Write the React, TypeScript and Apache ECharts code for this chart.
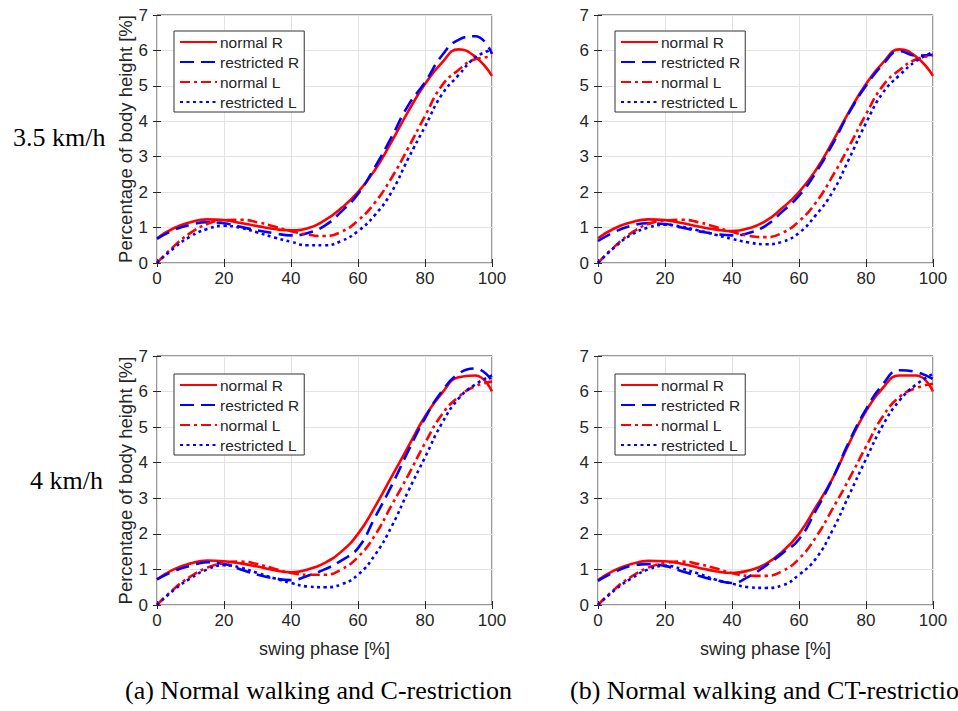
import React, { useEffect, useRef } from 'react';
import * as echarts from 'echarts';

const xValues = [0, 5, 10, 15, 20, 25, 30, 35, 40, 45, 50, 55, 60, 65, 70, 75, 80, 85, 90, 95, 100];
const seriesNames = ['normal R', 'restricted R', 'normal L', 'restricted L'];
const rowLabels = ['3.5 km/h', '4 km/h'];
const captions = ['(a) Normal walking and C-restriction', '(b) Normal walking and CT-restriction'];
const yAxisTitle = 'Percentage of body height [%]';
const xAxisTitle = 'swing phase [%]';

// (a) 3.5 km/h
const a35NormalR = [0.70, 0.98, 1.15, 1.23, 1.21, 1.13, 1.04, 0.96, 0.92, 0.98, 1.20, 1.55, 2.00, 2.62, 3.42, 4.28, 5.05, 5.65, 6.03, 5.82, 5.28];
const a35RestrictedR = [0.68, 0.93, 1.08, 1.15, 1.12, 1.02, 0.92, 0.84, 0.78, 0.85, 1.05, 1.45, 1.95, 2.70, 3.55, 4.45, 5.10, 5.85, 6.30, 6.40, 5.90];
const a35NormalL = [0.00, 0.47, 0.85, 1.10, 1.21, 1.22, 1.15, 1.03, 0.90, 0.80, 0.76, 0.88, 1.20, 1.70, 2.40, 3.25, 4.15, 5.00, 5.45, 5.75, 5.82];
const a35RestrictedL = [0.00, 0.42, 0.75, 0.96, 1.05, 0.99, 0.86, 0.72, 0.60, 0.50, 0.50, 0.62, 0.90, 1.35, 2.00, 2.95, 3.85, 4.75, 5.30, 5.80, 6.02];

// (b) 3.5 km/h
const b35NormalR = [0.70, 0.98, 1.15, 1.23, 1.21, 1.13, 1.03, 0.95, 0.90, 0.98, 1.18, 1.55, 2.00, 2.62, 3.42, 4.28, 5.05, 5.65, 6.03, 5.82, 5.28];
const b35RestrictedR = [0.62, 0.88, 1.05, 1.12, 1.10, 1.00, 0.90, 0.82, 0.78, 0.85, 1.05, 1.45, 1.90, 2.55, 3.35, 4.25, 5.00, 5.60, 5.98, 5.85, 5.88];
const b35NormalL = [0.00, 0.47, 0.85, 1.10, 1.20, 1.22, 1.15, 1.02, 0.88, 0.77, 0.73, 0.85, 1.18, 1.70, 2.45, 3.30, 4.20, 5.00, 5.45, 5.75, 5.85];
const b35RestrictedL = [0.00, 0.45, 0.80, 1.00, 1.08, 1.02, 0.92, 0.80, 0.68, 0.58, 0.53, 0.60, 0.85, 1.35, 2.00, 2.95, 3.95, 4.80, 5.30, 5.70, 5.95];

// (a) 4 km/h
const a4NormalR = [0.72, 1.00, 1.17, 1.25, 1.23, 1.17, 1.08, 0.98, 0.92, 1.00, 1.18, 1.50, 2.00, 2.75, 3.60, 4.45, 5.30, 5.95, 6.40, 6.45, 6.00];
const a4RestrictedR = [0.72, 0.95, 1.10, 1.20, 1.15, 1.00, 0.85, 0.75, 0.70, 0.82, 1.00, 1.25, 1.60, 2.45, 3.35, 4.33, 5.25, 6.00, 6.50, 6.65, 6.30];
const a4NormalL = [0.00, 0.45, 0.80, 1.05, 1.18, 1.22, 1.15, 1.02, 0.90, 0.85, 0.85, 1.00, 1.35, 1.95, 2.80, 3.65, 4.55, 5.35, 5.85, 6.15, 6.28];
const a4RestrictedL = [0.00, 0.42, 0.75, 1.00, 1.12, 1.05, 0.90, 0.75, 0.62, 0.52, 0.50, 0.58, 0.85, 1.40, 2.20, 3.20, 4.15, 5.10, 5.80, 6.20, 6.45];

// (b) 4 km/h
const b4NormalR = [0.70, 0.98, 1.15, 1.24, 1.23, 1.16, 1.05, 0.95, 0.90, 0.97, 1.15, 1.50, 2.00, 2.75, 3.55, 4.55, 5.45, 6.10, 6.45, 6.45, 6.00];
const b4RestrictedR = [0.68, 0.93, 1.10, 1.15, 1.10, 0.95, 0.82, 0.70, 0.62, 0.80, 1.10, 1.45, 1.85, 2.65, 3.55, 4.60, 5.50, 6.20, 6.60, 6.55, 6.35];
const b4NormalL = [0.00, 0.45, 0.80, 1.05, 1.18, 1.22, 1.15, 1.03, 0.90, 0.82, 0.82, 0.95, 1.30, 1.90, 2.70, 3.55, 4.45, 5.30, 5.85, 6.10, 6.22];
const b4RestrictedL = [0.00, 0.42, 0.75, 1.00, 1.10, 1.02, 0.88, 0.72, 0.60, 0.50, 0.48, 0.55, 0.85, 1.30, 2.10, 3.10, 4.10, 5.05, 5.75, 6.20, 6.50];

const panels = [
  [a35NormalR, a35RestrictedR, a35NormalL, a35RestrictedL],
  [b35NormalR, b35RestrictedR, b35NormalL, b35RestrictedL],
  [a4NormalR, a4RestrictedR, a4NormalL, a4RestrictedL],
  [b4NormalR, b4RestrictedR, b4NormalL, b4RestrictedL],
];

const grids = [
  { left: 157, top: 15, width: 335, height: 248 },
  { left: 598, top: 15, width: 335, height: 248 },
  { left: 157, top: 356, width: 335, height: 249 },
  { left: 598, top: 356, width: 335, height: 249 },
];

const legendPos = [
  { left: 174, top: 31 },
  { left: 615, top: 31 },
  { left: 174, top: 374 },
  { left: 615, top: 374 },
];

const lineStyles = [
  { color: '#ff0000', type: 'solid' as any },
  { color: '#0000ff', type: [14, 7] as any },
  { color: '#ff0000', type: [10, 4, 3, 4] as any },
  { color: '#0000ff', type: [3, 3.5] as any },
];

const SANS = '"Liberation Sans", Arial, Helvetica, sans-serif';
const SERIF = '"Liberation Serif", "Times New Roman", serif';
const AX = '#262626';

export default function App() {
  const ref = useRef<HTMLDivElement>(null);
  useEffect(() => {
    if (!ref.current) return;
    const chart = echarts.init(ref.current, undefined, { renderer: 'svg' });

    const xAxes: any[] = [];
    const yAxes: any[] = [];
    grids.forEach((_, p) => {
      xAxes.push({
        type: 'value', gridIndex: p, min: 0, max: 100, interval: 20, position: 'bottom',
        axisLine: { show: false },
        axisTick: { show: true, inside: true, length: 4, lineStyle: { color: AX } },
        axisLabel: { color: AX, fontSize: 17, fontFamily: SANS, margin: 7 },
        splitLine: { show: true, lineStyle: { color: '#e3e3e3', width: 1 } },
        name: p >= 2 ? xAxisTitle : '',
        nameLocation: 'middle', nameGap: 35,
        nameTextStyle: { color: AX, fontSize: 18, fontFamily: SANS },
      });
      yAxes.push({
        type: 'value', gridIndex: p, min: 0, max: 7, interval: 1, position: 'left',
        axisLine: { show: false },
        axisTick: { show: true, inside: true, length: 4, lineStyle: { color: AX } },
        axisLabel: { color: AX, fontSize: 17, fontFamily: SANS, margin: 9 },
        splitLine: { show: true, lineStyle: { color: '#e3e3e3', width: 1 } },
        name: p % 2 === 0 ? yAxisTitle : '',
        nameLocation: 'middle', nameGap: 21,
        nameTextStyle: { color: AX, fontSize: 18.5, fontFamily: SANS },
      });
    });
    grids.forEach((_, p) => {
      xAxes.push({
        type: 'value', gridIndex: p, min: 0, max: 100, interval: 20, position: 'top',
        axisLine: { show: false },
        axisTick: { show: true, inside: true, length: 4, lineStyle: { color: AX } },
        axisLabel: { show: false }, splitLine: { show: false },
      });
      yAxes.push({
        type: 'value', gridIndex: p, min: 0, max: 7, interval: 1, position: 'right',
        axisLine: { show: false },
        axisTick: { show: true, inside: true, length: 4, lineStyle: { color: AX } },
        axisLabel: { show: false }, splitLine: { show: false },
      });
    });

    const series: any[] = [];
    panels.forEach((arrs, p) => {
      arrs.forEach((arr, k) => {
        series.push({
          type: 'line', name: seriesNames[k], xAxisIndex: p, yAxisIndex: p,
          data: xValues.map((x, i) => [x, arr[i]]),
          smooth: 0.5, symbol: 'none', showSymbol: false,
          color: lineStyles[k].color,
          lineStyle: { color: lineStyles[k].color, width: 2.6, type: lineStyles[k].type },
          z: 3,
        });
      });
    });

    const legends = legendPos.map((pos) => ({
      ...pos,
      orient: 'vertical',
      data: seriesNames,
      itemWidth: 37, itemHeight: 14, itemGap: 4,
      padding: [3, 5, 2, 5],
      borderColor: '#333', borderWidth: 1, backgroundColor: '#fff',
      selectedMode: false,
      itemStyle: { opacity: 0, borderWidth: 0 },
      textStyle: { color: AX, fontSize: 15.5, fontFamily: SANS, lineHeight: 14, padding: [0, 0, 0, -2] },
      z: 10,
    }));

    const graphics: any[] = [
      { type: 'text', x: 13, y: 137, style: { text: rowLabels[0], font: `26px ${SERIF}`, fill: '#000', verticalAlign: 'middle' } },
      { type: 'text', x: 30, y: 480, style: { text: rowLabels[1], font: `26px ${SERIF}`, fill: '#000', verticalAlign: 'middle' } },
      { type: 'text', x: 125, y: 690, style: { text: captions[0], font: `26px ${SERIF}`, fill: '#000', verticalAlign: 'middle' } },
      { type: 'text', x: 570, y: 690, style: { text: captions[1], font: `26px ${SERIF}`, fill: '#000', verticalAlign: 'middle' } },
    ];

    chart.setOption({
      animation: false,
      backgroundColor: '#fff',
      grid: grids.map((g) => ({ ...g, show: true, borderColor: '#333', borderWidth: 1, backgroundColor: 'transparent' })),
      xAxis: xAxes,
      yAxis: yAxes,
      legend: legends,
      series,
      graphic: graphics,
    });
    return () => chart.dispose();
  }, []);
  return <div ref={ref} style={{ position: 'fixed', left: 0, top: 0, width: 958, height: 711 }} />;
}
